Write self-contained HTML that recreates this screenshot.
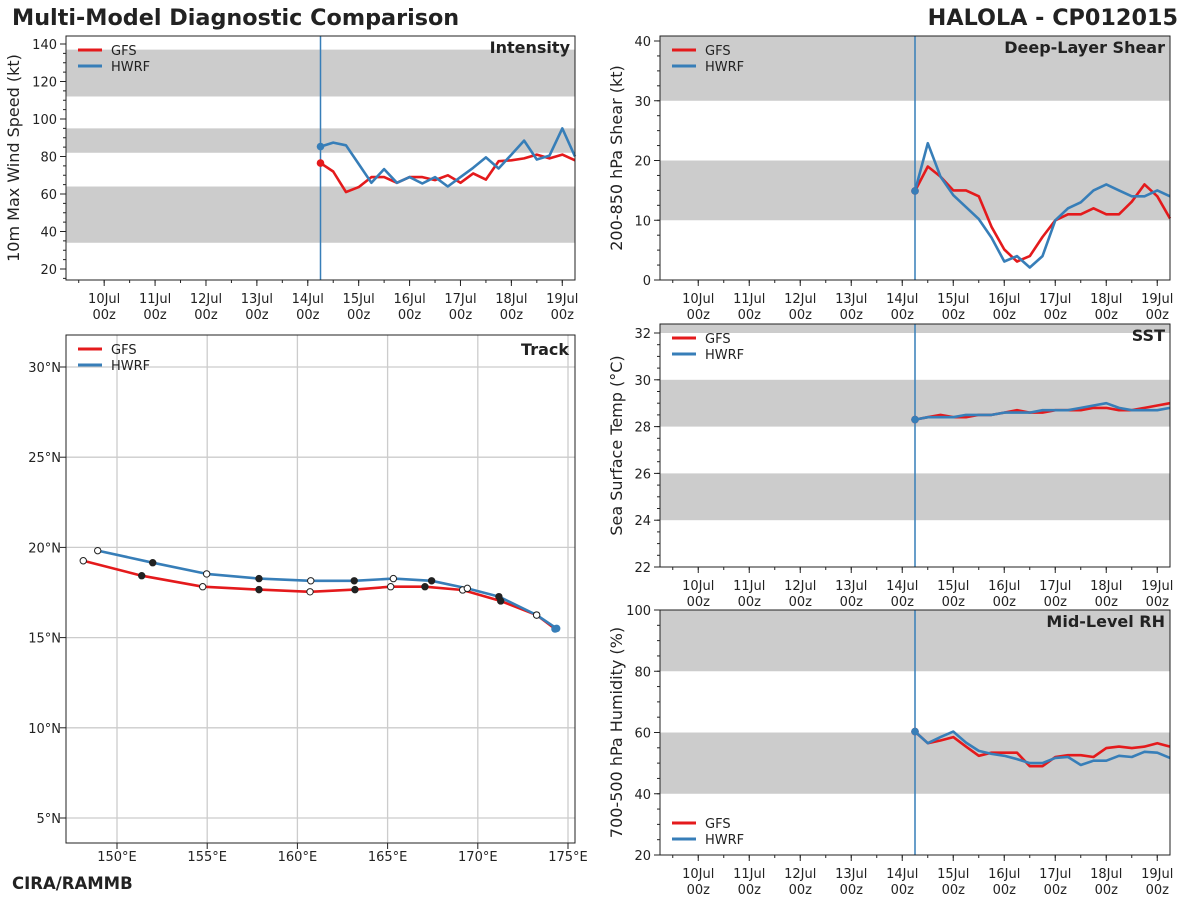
<!DOCTYPE html>
<html><head><meta charset="utf-8"><style>
body{margin:0;background:#fff}
svg{display:block;font-family:"DejaVu Sans","Liberation Sans",sans-serif}
</style></head><body>
<svg id="c" width="1200" height="900" viewBox="0 0 1200 900" xmlns="http://www.w3.org/2000/svg">
<text x="12" y="25" font-size="22.3" font-weight="bold" fill="#222">Multi-Model Diagnostic Comparison</text>
<text x="1178" y="25" font-size="22.3" font-weight="bold" fill="#222" text-anchor="end">HALOLA - CP012015</text>
<text x="12" y="889" font-size="16.5" font-weight="bold" fill="#222">CIRA/RAMMB</text>
</svg>
<script>
const timeStart=14.25, timeStep=0.25;
const dayTicks=[10,11,12,13,14,15,16,17,18,19];
const dayLabels=["10Jul","11Jul","12Jul","13Jul","14Jul","15Jul","16Jul","17Jul","18Jul","19Jul"];
const intensityGFS=[76.5,72,61,63.7,69,69,66,69,69,67.4,70,66,71,67.7,77.5,78,79,81,79,81,78];
const intensityHWRF=[85.3,87.4,86,76,66,73.3,66,69,65.6,69,64,69,74,79.5,73.6,81,88.5,78.4,80.5,95,80];
const shearGFS=[14.9,19,17.3,15,15,14,8.9,5.1,3.1,4,7.2,10,11,11,12,11,11,13.1,16,14,10.3];
const shearHWRF=[14.9,22.9,17.3,14.2,12.2,10.2,7.1,3.1,4,2.1,4,10,12,13,15,16,15,14,14,15,14];
const sstGFS=[28.3,28.4,28.5,28.4,28.4,28.5,28.5,28.6,28.7,28.6,28.6,28.7,28.7,28.7,28.8,28.8,28.7,28.7,28.8,28.9,29.0];
const sstHWRF=[28.3,28.4,28.4,28.4,28.5,28.5,28.5,28.6,28.6,28.6,28.7,28.7,28.7,28.8,28.9,29.0,28.8,28.7,28.7,28.7,28.8];
const rhGFS=[60.3,56.5,57.4,58.5,55.4,52.4,53.4,53.4,53.4,49,49,52,52.6,52.6,52,54.9,55.4,54.9,55.4,56.5,55.4];
const rhHWRF=[60.3,56.5,58.5,60.3,56.7,54,53,52.4,51.3,50,50,51.7,52,49.4,50.8,50.8,52.4,52,53.7,53.4,51.7];
const trackLonGFS=[174.28,173.26,171.27,169.16,167.07,165.17,163.19,160.70,157.87,154.75,151.37,148.13];
const trackLatGFS=[15.48,16.25,17.03,17.64,17.82,17.82,17.66,17.54,17.66,17.82,18.43,19.26];
const trackLonHWRF=[174.37,173.26,171.17,169.42,167.44,165.32,163.15,160.74,157.87,154.97,151.98,148.93];
const trackLatHWRF=[15.51,16.25,17.27,17.73,18.15,18.27,18.15,18.15,18.27,18.53,19.15,19.82];
const RED="#e41a1c",BLUE="#377eb8",NS="http://www.w3.org/2000/svg";
const svg=document.getElementById('c');
function mk(tag,attrs,parent){const e=document.createElementNS(NS,tag);for(const k in attrs)e.setAttribute(k,attrs[k]);(parent||svg).appendChild(e);return e;}
function txt(s,attrs,parent){const e=mk('text',attrs,parent);e.textContent=s;return e;}

function legend(g,x,y,name){
  [["GFS",RED],["HWRF",BLUE]].forEach((d,i)=>{
    const l=mk('line',{x1:x,x2:x+24,y1:y+i*16,y2:y+i*16,stroke:d[1],'stroke-width':3},g);
    
    
    const t=txt(d[0],{x:x+33,y:y+i*16+5,'font-size':13,fill:'#222'},g);
    
    
  });
}

function timePanel(c){
  const g=mk('g',{});
  
  
  const L=c.L,R=c.R,T=c.T,B=c.B;
  const xs=d=>L+(d-9.25)/10*(R-L);
  const ys=v=>c.y0px+(v-c.v0)*(c.y1px-c.y0px)/(c.v1-c.v0);
  const vTop=c.v0+(T-c.y0px)*(c.v1-c.v0)/(c.y1px-c.y0px);
  c.bands.forEach((b,i)=>{
    const hi=Math.min(b[1],vTop);
    const r=mk('rect',{x:L,y:ys(hi),width:R-L,height:ys(b[0])-ys(hi),fill:'#cccccc'},g);
    
    
  });
  for(let v=c.minStart;v<=c.v1max;v+=c.minor){
    const y=ys(v); if(y<T-0.5||y>B+0.5)continue;
    mk('line',{x1:L-3,x2:L,y1:y,y2:y,stroke:'#222','stroke-width':1},g);
  }
  c.ticks.forEach(v=>{
    const y=ys(v);
    mk('line',{x1:L-6,x2:L,y1:y,y2:y,stroke:'#222','stroke-width':1},g);
    const t=txt(String(v),{x:L-9,y:y+5,'font-size':13,'text-anchor':'end',fill:'#222'},g);
    
    
  });
  for(let d=9.5;d<19.3;d+=0.5){const x=xs(d);mk('line',{x1:x,x2:x,y1:B,y2:B+3,stroke:'#222'},g);}
  dayTicks.forEach((d,i)=>{
    const x=xs(d);
    mk('line',{x1:x,x2:x,y1:B,y2:B+6,stroke:'#222'},g);
    const t1=txt(dayLabels[i],{x:x,y:B+23,'font-size':13,'text-anchor':'middle',fill:'#222'},g);
    
    
    const t2=txt("00z",{x:x,y:B+39,'font-size':13,'text-anchor':'middle',fill:'#222'},g);
    
    
  });
  const yt=txt(c.ytitle,{x:0,y:0,'font-size':16,'text-anchor':'middle',fill:'#222',transform:`translate(${c.ytx},${(T+B)/2}) rotate(-90)`},g);
  
  
  const il=mk('line',{x1:xs(timeStart),x2:xs(timeStart),y1:T,y2:B,stroke:BLUE,'stroke-width':1.5},g);
  
  
  [[c.gfs,RED,'gfs'],[c.hwrf,BLUE,'hwrf']].forEach(s=>{
    const pts=s[0].map((v,i)=>xs(timeStart+i*timeStep).toFixed(1)+','+ys(v).toFixed(1)).join(' ');
    const p=mk('polyline',{points:pts,fill:'none',stroke:s[1],'stroke-width':2.6,'stroke-linejoin':'round'},g);
    
    
    const dot=mk('circle',{cx:xs(timeStart),cy:ys(s[0][0]),r:3.8,fill:s[1]},g);
    
    
  });
  const fr=mk('rect',{x:L,y:T,width:R-L,height:B-T,fill:'none',stroke:'#222','stroke-width':1},g);
  
  
  const pt=txt(c.title,{x:R-5,y:T+17,'font-size':16,'font-weight':'bold','text-anchor':'end',fill:'#222'},g);
  
  
  legend(g,L+12,c.legBottom?B-32:T+14,c.name);
}

timePanel({name:'intensity',L:66,R:575,T:36,B:280,v0:20,y0px:269,v1:140,y1px:44,v1max:150,minStart:15,minor:5,
  ticks:[20,40,60,80,100,120,140],bands:[[34,64],[82,95],[112,137]],ytitle:'10m Max Wind Speed (kt)',ytx:19,
  title:'Intensity',gfs:intensityGFS,hwrf:intensityHWRF});
timePanel({name:'shear',L:660,R:1170,T:36,B:280,v0:0,y0px:280,v1:40,y1px:41,v1max:41,minStart:0,minor:2.5,
  ticks:[0,10,20,30,40],bands:[[10,20],[30,45]],ytitle:'200-850 hPa Shear (kt)',ytx:622,
  title:'Deep-Layer Shear',gfs:shearGFS,hwrf:shearHWRF});
timePanel({name:'sst',L:660,R:1170,T:324,B:567,v0:22,y0px:567,v1:32,y1px:333,v1max:32.5,minStart:22,minor:0.5,
  ticks:[22,24,26,28,30,32],bands:[[24,26],[28,30],[32,35]],ytitle:'Sea Surface Temp (°C)',ytx:622,
  title:'SST',gfs:sstGFS,hwrf:sstHWRF});
timePanel({name:'rh',L:660,R:1170,T:610,B:855,v0:20,y0px:855,v1:100,y1px:610,v1max:100,minStart:20,minor:5,
  ticks:[20,40,60,80,100],bands:[[40,60],[80,100]],ytitle:'700-500 hPa Humidity (%)',ytx:622,
  title:'Mid-Level RH',gfs:rhGFS,hwrf:rhHWRF,legBottom:true});

(function(){
  const L=66,R=575,T=335,B=843;
  const g=mk('g',{});
  
  
  const xs=lon=>117+(lon-150)*18.04;
  const ys=lat=>367+(30-lat)*18.04;
  const lonTicks=[150,155,160,165,170,175], latTicks=[5,10,15,20,25,30];
  lonTicks.forEach(v=>{
    const x=xs(v);
    const gl=mk('line',{x1:x,x2:x,y1:T,y2:B,stroke:'#cccccc','stroke-width':1.3},g);
    
    
    mk('line',{x1:x,x2:x,y1:B,y2:B+6,stroke:'#222'},g);
    const t=txt(v+'°E',{x:x,y:B+18,'font-size':13,'text-anchor':'middle',fill:'#222'},g);
    
    
  });
  latTicks.forEach(v=>{
    const y=ys(v);
    const gl=mk('line',{x1:L,x2:R,y1:y,y2:y,stroke:'#cccccc','stroke-width':1.3},g);
    
    
    mk('line',{x1:L-6,x2:L,y1:y,y2:y,stroke:'#222'},g);
    const t=txt(v+'°N',{x:L-5,y:y+5,'font-size':13,'text-anchor':'end',fill:'#222'},g);
    
    
  });
  [[trackLonGFS,trackLatGFS,RED,'gfs'],[trackLonHWRF,trackLatHWRF,BLUE,'hwrf']].forEach(s=>{
    const pts=s[0].map((v,i)=>xs(v).toFixed(1)+','+ys(s[1][i]).toFixed(1)).join(' ');
    const p=mk('polyline',{points:pts,fill:'none',stroke:s[2],'stroke-width':2.6,'stroke-linejoin':'round'},g);
    
    
  });
  [[trackLonGFS,trackLatGFS,RED,'gfs'],[trackLonHWRF,trackLatHWRF,BLUE,'hwrf']].forEach(s=>{
    s[0].forEach((v,i)=>{
      let m;
      if(i===0){m=mk('circle',{cx:xs(v),cy:ys(s[1][i]),r:3.8,fill:BLUE},g);}
      else{m=mk('circle',{cx:xs(v),cy:ys(s[1][i]),r:3.2,fill:i%2===0?'#222':'#fff',stroke:'#222','stroke-width':1},g);}
      
      
    });
  });
  const fr=mk('rect',{x:L,y:T,width:R-L,height:B-T,fill:'none',stroke:'#222','stroke-width':1},g);
  
  
  const pt=txt('Track',{x:R-6,y:T+20,'font-size':16,'font-weight':'bold','text-anchor':'end',fill:'#222'},g);
  
  
  legend(g,78,T+14,'track');
})();
</script>
</body></html>
